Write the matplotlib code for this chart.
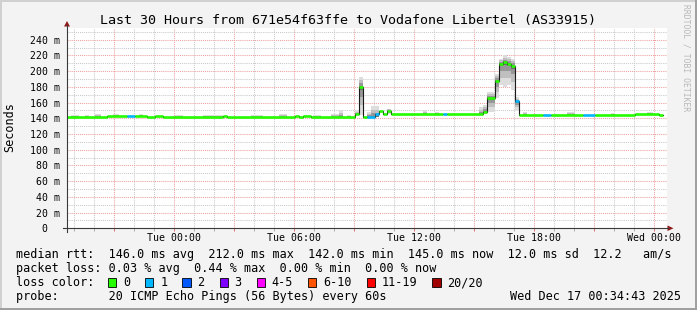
import numpy as np
import matplotlib
matplotlib.use("Agg")
import matplotlib.pyplot as plt
from matplotlib.patches import Rectangle, Polygon
from matplotlib.lines import Line2D

W, H = 697, 310
MONO = "DejaVu Sans Mono"

title = "Last 30 Hours from 671e54f63ffe to Vodafone Libertel (AS33915)"

# time axis: hours relative to Tue 00:00
x_range = (-5.35, 24.65)
tick_names = {0: "Tue 00:00", 6: "Tue 06:00", 12: "Tue 12:00", 18: "Tue 18:00", 24: "Wed 00:00"}

# median rtt (ms), one entry per run of equal values, with loss colour index
seg_start = [-5.35, -3.35, -2.35, -1.95, -1.35, -0.95, -0.55, 2.45, 2.65, 6.05, 6.25, 6.45, 6.85,
             9.05, 9.25, 9.45, 9.65, 10.05, 10.25, 10.45, 10.65, 10.85, 13.45, 13.65,
             15.45, 15.65, 16.05, 16.25, 16.45, 16.65, 16.85, 17.05, 17.25,
             18.45, 18.85, 20.45, 21.05, 23.05, 24.25]
data_end = 24.45
median_ms = [141.5, 143, 143, 143, 141.5, 143, 141.5, 143, 141.5, 143, 141.5, 143, 141.5,
             145.5, 180, 141.5, 141.5, 145, 149.5, 145, 149.5, 145.4, 145.4, 145.4,
             148.4, 166, 188, 209.5, 212, 209.5, 207, 161.5, 144.4,
             144.4, 144.4, 144.4, 144.4, 145.8, 144.4]
loss_idx = [0, 0, 1, 0, 0, 0, 0, 0, 0, 0, 0, 0, 0,
            0, 0, 0, 1, 1, 0, 0, 0, 0, 1, 0,
            0, 0, 0, 0, 0, 0, 0, 1, 0,
            1, 0, 1, 0, 0, 0]

# smoke (spread of the single pings), ms
smoke_start = [-5.15, -4.45, -3.95, -3.05, -1.75, 0.05, 1.45, 3.85, 5.25, 6.95, 7.85, 8.25, 8.65,
               9.05, 9.25, 9.65, 9.85, 10.65, 12.45, 13.05,
               15.25, 15.45, 15.65, 16.05, 16.25, 16.45, 16.65, 16.85, 17.05,
               17.45, 19.65, 21.85, 23.65]
smoke_end = [-4.75, -4.25, -3.65, -2.75, -1.55, 0.45, 2.45, 4.45, 5.65, 7.35, 8.25, 8.45, 8.85,
             9.25, 9.45, 9.85, 10.25, 10.85, 12.65, 13.25,
             15.45, 15.65, 16.05, 16.25, 16.45, 16.65, 16.85, 17.05, 17.25,
             17.65, 20.05, 22.05, 23.95]
smoke_lo = [141.5, 141.5, 141.5, 143, 143, 141.5, 141.5, 141.5, 141.5, 141.5, 141.5, 141.5, 141.5,
            144, 144, 141.5, 141.5, 145, 145.4, 145.4,
            144, 146, 148, 166, 182, 180, 182, 176, 150,
            144.4, 144.4, 144.4, 145.8]
smoke_hi = [144.5, 144, 145, 145.5, 145, 144.5, 144, 144, 146, 144, 145, 150.5, 144,
            150, 193, 148, 155.5, 152.5, 150, 148,
            154, 157, 174, 197, 216, 220, 218, 216, 167,
            148, 148, 147, 148]

loss_colors = ["#26ff00", "#00b8ff", "#0059ff", "#7e00ff", "#ff00ff", "#ff5500", "#ff0000", "#a10000"]
loss_labels = ["0", "1", "2", "3", "4-5", "6-10", "11-19", "20/20"]

rtt_stats = [146.0, 212.0, 142.0, 145.0]
rtt_sd = 12.0
rtt_ams = 12.2
loss_stats = [0.03, 0.44, 0.00, 0.00]
probe_text = "20 ICMP Echo Pings (56 Bytes) every 60s"
stamp = "Wed Dec 17 00:34:43 2025"


def fx(x):
    return x / W


def fy(y):
    return 1 - y / H


fig = plt.figure(figsize=(W / 100, H / 100), dpi=100, facecolor="#f3f3f3")
y0_px, y1_px = 228.3, 28.0
ax = fig.add_axes([fx(67), fy(y0_px), 600 / W, (y0_px - y1_px) / H])
ax.set_facecolor("white")
ax.set_xlim(*x_range)
ax.set_ylim(0, 255)
for s in ax.spines.values():
    s.set_visible(False)

# grid
ax.set_xticks(np.arange(-3, 25, 3))
ax.set_xticks(np.arange(-5, 25, 1), minor=True)
ax.set_xticklabels([tick_names.get(int(t), "") for t in np.arange(-3, 25, 3)],
                   family=MONO, fontsize=7.1)
yt = np.arange(0, 241, 20)
ax.set_yticks(yt)
ax.set_yticks(np.arange(10, 255, 10), minor=True)
ax.set_yticklabels(["0  " if v == 0 else f"{v} m" for v in yt], family=MONO, fontsize=7.1)
ax.grid(which="major", color="#eda0a0", linestyle=(0, (1, 1)), lw=0.75)
ax.grid(which="minor", color="#c9c9c9", linestyle=(0, (1, 1)), lw=0.75)
ax.set_axisbelow(True)
ax.tick_params(axis="x", which="major", length=2.2, width=0.72, color="#e07070", pad=1.4)
ax.tick_params(axis="x", which="minor", length=2.2, width=0.72, color="#b0b0b0")
ax.tick_params(axis="y", which="both", length=0, pad=5)

# smoke
seg_start_arr = np.array(seg_start)
layers = [(1.0, "#dddddd"), (0.65, "#bfbfbf"), (0.35, "#979797"), (0.12, "#6e6e6e")]
for s, e, lo, hi in zip(smoke_start, smoke_end, smoke_lo, smoke_hi):
    med = median_ms[np.searchsorted(seg_start_arr, s + 1e-6, side="right") - 1]
    for f, c in layers:
        lo_f = med - f * (med - lo)
        hi_f = med + f * (hi - med)
        if hi_f - lo_f > 0:
            ax.add_patch(Rectangle((s, lo_f), e - s, hi_f - lo_f, facecolor=c,
                                   edgecolor="none", zorder=2))

# median line and loss-coloured bars
edges = seg_start + [data_end]
ax.step(edges, median_ms + [median_ms[-1]], where="post", color="#1a1a1a", lw=0.8, zorder=3)
ax.hlines(median_ms, seg_start, seg_start[1:] + [data_end],
          colors=[loss_colors[i] for i in loss_idx], lw=1.9, capstyle="butt", zorder=4)

# axis lines and arrows
axis_col = "#3a3a3a"
arrow_col = "#8e1a1a"
fig.add_artist(Line2D([fx(63), fx(668)], [fy(y0_px), fy(y0_px)], color=axis_col, lw=0.8))
fig.add_artist(Line2D([fx(67), fx(67)], [fy(231.5), fy(25)], color=axis_col, lw=0.8))
fig.add_artist(Polygon([[fx(667.5), fy(225.5)], [fx(673.5), fy(y0_px)], [fx(667.5), fy(231)]],
                       closed=True, color=arrow_col, lw=0))
fig.add_artist(Polygon([[fx(64), fy(26.5)], [fx(67), fy(21)], [fx(70), fy(26.5)]],
                       closed=True, color=arrow_col, lw=0))

# texts
fig.text(0.5, fy(24), title, ha="center", va="baseline", family=MONO, fontsize=9.6)
fig.text(fx(10), fy(127), "Seconds", rotation=90, ha="center", va="center",
         family=MONO, fontsize=8.5)
fig.text(fx(686), fy(58), "RRDTOOL / TOBI OETIKER", rotation=270, ha="center", va="center",
         family=MONO, fontsize=5.8, color="#b8b8b8")

lx = 15.6
row1 = ("median rtt:  "
        + "  ".join(f"{v:.1f} ms {n}" for v, n in zip(rtt_stats, ["avg", "max", "min", "now"]))
        + f"  {rtt_sd:.1f} ms sd  {rtt_ams:.1f}   am/s")
row2 = ("packet loss: "
        + "  ".join(f"{v:.2f} % {n}" for v, n in zip(loss_stats, ["avg", "max", "min", "now"])))
fig.text(fx(lx), fy(258.3), row1, ha="left", va="baseline", family=MONO, fontsize=8.5)
fig.text(fx(lx), fy(272.2), row2, ha="left", va="baseline", family=MONO, fontsize=8.5)
fig.text(fx(lx), fy(286.2), "loss color:", ha="left", va="baseline", family=MONO, fontsize=8.5)
fig.text(fx(lx), fy(300.2), "probe:       " + probe_text, ha="left", va="baseline",
         family=MONO, fontsize=8.5)
fig.text(fx(680.5), fy(300.2), stamp, ha="right", va="baseline", family=MONO, fontsize=8.5)

cw = 7.107
bx = 108.0
for col, lab in zip(loss_colors, loss_labels):
    fig.add_artist(Rectangle((fx(bx), fy(286.6)), 8.2 / W, 8.2 / H, facecolor=col,
                             edgecolor="black", lw=0.6, transform=fig.transFigure))
    fig.text(fx(bx + 15), fy(286.2), lab, ha="left", va="baseline", family=MONO, fontsize=8.5)
    bx = bx + 15 + len(lab) * cw + 15.1

# 3d frame
fig.add_artist(Line2D([0, 1], [fy(0.5), fy(0.5)], color="#d0d0d0", lw=1.4))
fig.add_artist(Line2D([fx(0.5), fx(0.5)], [0, 1], color="#d0d0d0", lw=1.4))
fig.add_artist(Line2D([0, 1], [fy(309), fy(309)], color="#9e9e9e", lw=1.4))
fig.add_artist(Line2D([fx(696), fx(696)], [0, 1], color="#9e9e9e", lw=1.4))

fig.savefig("out.png", dpi=100, facecolor=fig.get_facecolor())
